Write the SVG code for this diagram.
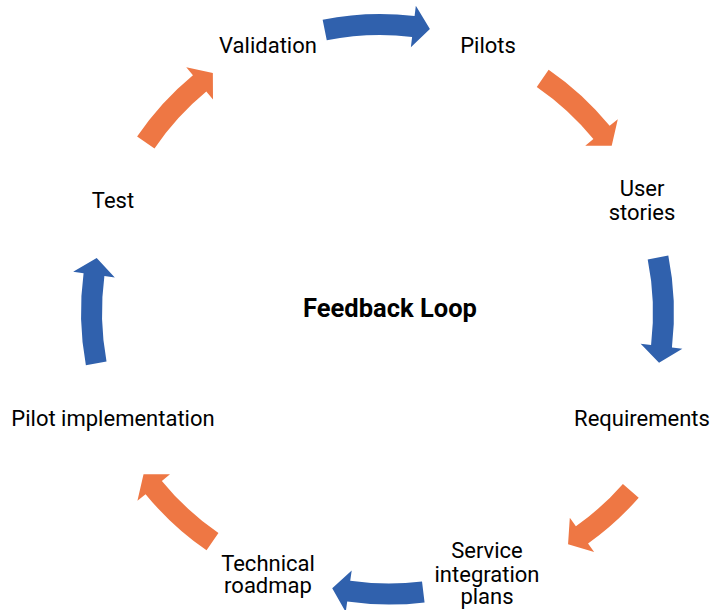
<svg xmlns="http://www.w3.org/2000/svg" width="711" height="610" viewBox="0 0 711 610">
  <style>
    .lbl { font-family: Roboto, "Liberation Sans", sans-serif; font-size: 22px; fill: #000; text-anchor: middle; }
    .title { font-family: Roboto, "Liberation Sans", sans-serif; font-size: 25.5px; font-weight: bold; fill: #000; text-anchor: middle; }
    .blue { fill: #3061AD; }
    .orange { fill: #EE7744; }
  </style>
  <defs>
    <!-- curved arrow on a circle of radius 282 around the origin; tail at the top, sweeping clockwise -->
    <path id="arcA" d="M0,-292.5 A292.5,292.5 0 0 1 90.87,-278.03 L94.14,-288.01 L103.35,-262.38 L81.09,-248.09 L84.35,-258.07 A271.5,271.5 0 0 0 0,-271.5 Z"/>
    <path id="arcB" d="M0,-292.5 A292.5,292.5 0 0 1 82.10,-280.74 L85.04,-290.82 L95.06,-265.49 L73.25,-250.51 L76.20,-260.59 A271.5,271.5 0 0 0 0,-271.5 Z"/>
    <path id="arcC" d="M0,-292.5 A292.5,292.5 0 0 1 76.69,-282.27 L79.44,-292.40 L89.95,-267.27 L68.43,-251.87 L71.18,-262.00 A271.5,271.5 0 0 0 0,-271.5 Z"/>
    <path id="arcD" d="M0,-292.5 A292.5,292.5 0 0 1 67.79,-284.54 L70.22,-294.75 L81.51,-269.96 L60.49,-253.90 L62.92,-264.11 A271.5,271.5 0 0 0 0,-271.5 Z"/>
  </defs>

  <g id="connectors">
    <use href="#arcA" class="blue" transform="translate(324.7,30) rotate(-11.3) translate(0,282)"/>
    <use href="#arcB" class="orange" transform="translate(542.7,78.3) rotate(34.48) translate(0,282)"/>
    <use href="#arcA" class="blue" transform="translate(658,257.5) rotate(78.69) translate(0,282)"/>
    <use href="#arcD" class="orange" transform="translate(630.8,490.8) rotate(131.2) translate(0,282)"/>
    <use href="#arcC" class="blue" transform="translate(423.3,592) rotate(173) translate(0,282)"/>
    <use href="#arcB" class="orange" transform="translate(212.5,541.7) rotate(214.52) translate(0,282)"/>
    <use href="#arcA" class="blue" transform="translate(96.2,363.3) rotate(259.52) translate(0,282)"/>
    <use href="#arcB" class="orange" transform="translate(145.8,142.5) rotate(304.17) translate(0,282)"/>
  </g>

  <g id="center">
    <text class="title" x="390" y="316.5">Feedback Loop</text>
  </g>
  <g id="pilots">
    <text class="lbl" x="488" y="53">Pilots</text>
  </g>
  <g id="user-stories">
    <text class="lbl" x="642" y="195.5">User</text>
    <text class="lbl" x="642" y="219.5">stories</text>
  </g>
  <g id="requirements">
    <text class="lbl" x="642" y="425.5">Requirements</text>
  </g>
  <g id="service-integration-plans">
    <text class="lbl" x="487" y="558">Service</text>
    <text class="lbl" x="487" y="582">integration</text>
    <text class="lbl" x="487" y="604">plans</text>
  </g>
  <g id="technical-roadmap">
    <text class="lbl" x="268" y="570.5">Technical</text>
    <text class="lbl" x="268" y="593">roadmap</text>
  </g>
  <g id="pilot-implementation">
    <text class="lbl" x="113" y="425.5">Pilot implementation</text>
  </g>
  <g id="test">
    <text class="lbl" x="113" y="207.5">Test</text>
  </g>
  <g id="validation">
    <text class="lbl" x="268" y="53">Validation</text>
  </g>
</svg>
